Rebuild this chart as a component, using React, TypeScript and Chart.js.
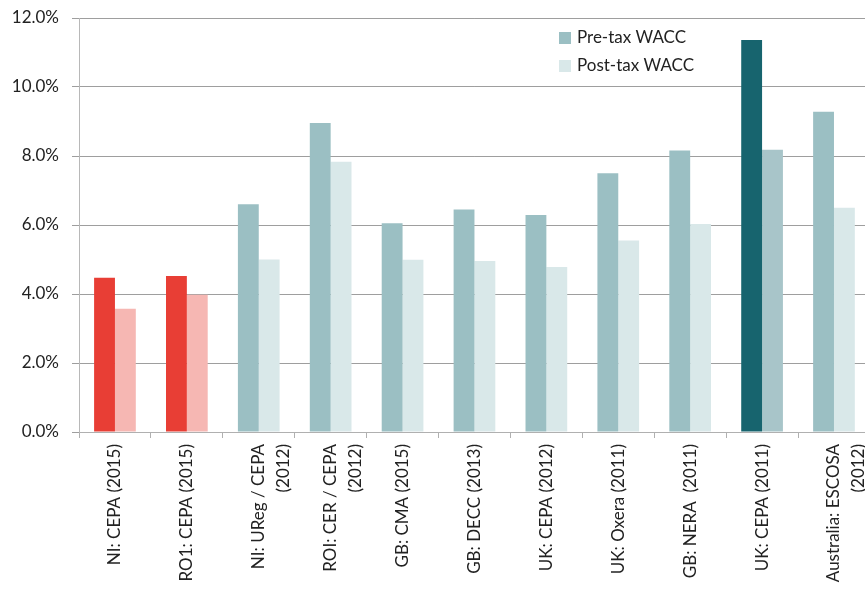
import React, { useEffect, useRef } from "react";
import { Chart, registerables } from "chart.js";

Chart.register(...registerables);

const categories: (string | string[])[] = [
  "NI: CEPA (2015)",
  "RO1: CEPA (2015)",
  ["NI: UReg / CEPA", "(2012)"],
  ["ROI: CER / CEPA", "(2012)"],
  "GB: CMA (2015)",
  "GB: DECC (2013)",
  "UK: CEPA (2012)",
  "UK: Oxera (2011)",
  "GB: NERA  (2011)",
  "UK: CEPA (2011)",
  ["Australia: ESCOSA", "(2012)"],
];

const preTax = [4.47, 4.52, 6.6, 8.96, 6.05, 6.45, 6.29, 7.5, 8.16, 11.36, 9.28];
const postTax = [3.57, 3.98, 5.0, 7.83, 4.99, 4.96, 4.78, 5.55, 6.03, 8.18, 6.5];

const RED = "#E83E35";
const LIGHT_RED = "#F6B7B3";
const TEAL = "#9BBFC3";
const LIGHT_TEAL = "#D9E8E9";
const DARK_TEAL = "#17646E";
const MID_TEAL = "#A8C5C9";

const preColors = [RED, RED, TEAL, TEAL, TEAL, TEAL, TEAL, TEAL, TEAL, DARK_TEAL, TEAL];
const postColors = [LIGHT_RED, LIGHT_RED, LIGHT_TEAL, LIGHT_TEAL, LIGHT_TEAL, LIGHT_TEAL, LIGHT_TEAL, LIGHT_TEAL, LIGHT_TEAL, MID_TEAL, LIGHT_TEAL];

const legendColors = [TEAL, LIGHT_TEAL];

const legendPlugin = {
  id: "customLegend",
  afterDraw(chart: any) {
    const ctx = chart.ctx;
    ctx.save();
    ctx.font = "17px Lato";
    ctx.textBaseline = "middle";
    ctx.textAlign = "left";
    chart.data.datasets.forEach((ds: any, i: number) => {
      const y = 38 + i * 28;
      ctx.fillStyle = legendColors[i];
      ctx.fillRect(559, y - 6, 12, 12);
      ctx.fillStyle = "#222";
      ctx.fillText(ds.label, 577, y);
    });
    ctx.restore();
  },
};

export default function App() {
  const ref = useRef<HTMLCanvasElement>(null);
  useEffect(() => {
    document.body.style.overflow = "hidden";
    const chart = new Chart(ref.current!, {
      type: "bar",
      data: {
        labels: categories,
        datasets: [
          { label: "Pre-tax WACC", data: preTax, backgroundColor: preColors, categoryPercentage: 0.58, barPercentage: 1 },
          { label: "Post-tax WACC", data: postTax, backgroundColor: postColors, categoryPercentage: 0.58, barPercentage: 1 },
        ],
      },
      options: {
        animation: false,
        responsive: true,
        maintainAspectRatio: false,
        layout: { padding: { top: 0, right: 16, left: 0, bottom: 0 } },
        plugins: { legend: { display: false }, tooltip: { enabled: false } },
        scales: {
          x: {
            grid: { drawOnChartArea: false, offset: true, tickLength: 6, color: "#B0B0B0" },
            border: { color: "#B0B0B0" },
            ticks: {
              minRotation: 90,
              maxRotation: 90,
              autoSkip: false,
              padding: 6,
              color: "#222",
              font: { family: "Lato", size: 17, lineHeight: 1.45 },
            },
            afterFit(scale: any) {
              scale.height = 159;
            },
          },
          y: {
            min: 0,
            max: 12,
            ticks: {
              stepSize: 2,
              padding: 13,
              color: "#222",
              font: { family: "Lato", size: 17 },
              callback: (v: any) => Number(v).toFixed(1) + "%",
            },
            grid: { color: "#9E9E9E", tickLength: 7 },
            border: { color: "#B8B8B8" },
            afterFit(scale: any) {
              scale.width = 79;
              scale.paddingTop = 18;
              scale.paddingBottom = 10;
            },
          },
        },
      },
      plugins: [legendPlugin],
    });
    return () => chart.destroy();
  }, []);
  return (
    <div style={{ position: "fixed", left: 0, top: 0, width: 865, height: 591, overflow: "hidden", background: "#fff" }}>
      <div style={{ width: 890, height: 591, position: "relative" }}>
        <canvas ref={ref} />
      </div>
    </div>
  );
}
